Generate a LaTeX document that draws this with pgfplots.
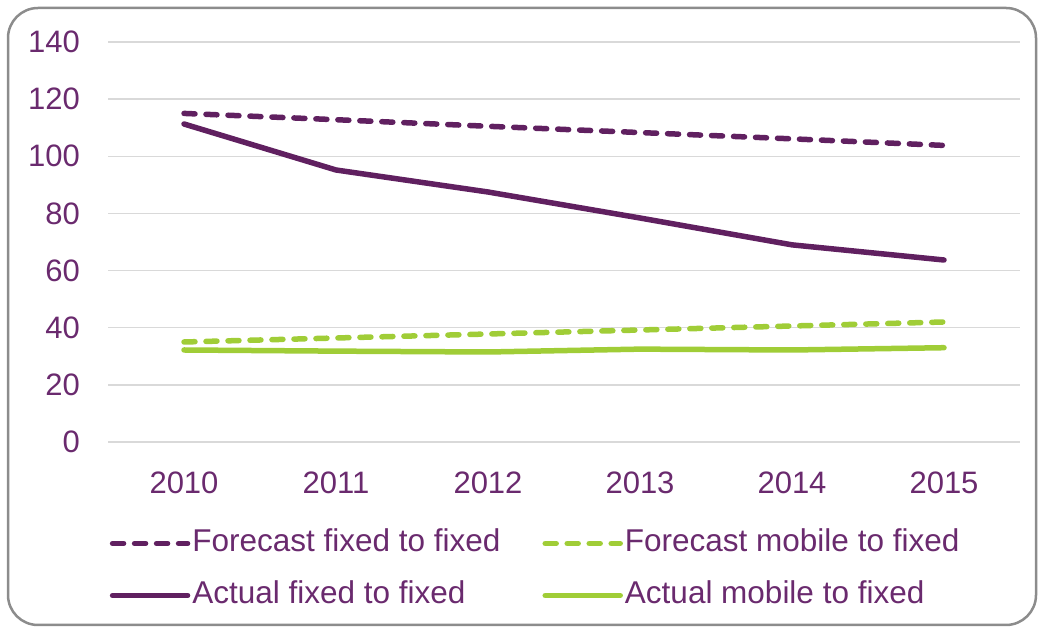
\documentclass[border=0pt]{standalone}
\usepackage{pgfplots}
\pgfplotsset{compat=1.18}
\usepackage{fontspec}
\setmainfont{Liberation Sans}
\definecolor{lpurple}{RGB}{96,32,96}
\definecolor{tpurple}{RGB}{106,42,110}
\definecolor{lgreen}{RGB}{160,205,55}
\definecolor{gridgray}{RGB}{217,217,217}
\definecolor{axgray}{RGB}{166,166,166}
\definecolor{framegray}{RGB}{140,140,140}
\newcommand{\bigfont}{\fontsize{31bp}{37bp}\selectfont}
\newcommand{\legfont}{\fontsize{31.5bp}{37bp}\selectfont}
\begin{document}
\begin{tikzpicture}[x=1bp,y=1bp]
\useasboundingbox (0,0) rectangle (1039,629);
\draw[framegray, line width=2.5bp, rounded corners=30bp] (8,4) rectangle (1036,621);
\begin{axis}[
  at={(108bp,187bp)}, anchor=south west,
  scale only axis, width=912bp, height=400bp,
  xmin=-0.5, xmax=5.5, ymin=0, ymax=140,
  ytick={0,20,...,140},
  xtick={0,1,2,3,4,5},
  xticklabels={2010,2011,2012,2013,2014,2015},
  /pgf/number format/assume math mode=true,
  axis line style={draw=none},
  major tick length=0pt,
  ymajorgrids,
  major grid style={draw=gridgray, line width=1.5bp},
  extra y ticks={0},
  extra y tick labels={},
  extra y tick style={grid style={draw=axgray, line width=1.8bp}},
  tick label style={font=\bigfont, text=tpurple, inner sep=0pt},
  yticklabel style={anchor=east, xshift=-28bp},
  xticklabel style={anchor=north, yshift=-30bp},
  legend columns=2,
  legend style={at={(0.002,-0.2175)}, anchor=north west, draw=none, fill=none,
    inner sep=0pt, outer sep=0pt, font=\legfont, text=tpurple,
    nodes={text height=23bp, text depth=6bp, inner ysep=0pt, inner xsep=2bp, anchor=west},
    row sep=23bp,
    /tikz/every even column/.append style={column sep=40bp}},
  legend cell align=left,
  legend image code/.code={\draw[#1, line width=5.5bp] (2bp,0bp) -- (77bp,0bp);},
]
\addplot[lpurple, line width=5.5bp, line cap=round, dash pattern=on 11bp off 11bp] coordinates {(0,115) (1,112.8) (2,110.5) (3,108.3) (4,106.1) (5,103.8)};
\addlegendentry{Forecast fixed to fixed}
\addplot[lgreen, line width=5.5bp, line cap=round, dash pattern=on 11bp off 11bp] coordinates {(0,35) (1,36.4) (2,37.8) (3,39.2) (4,40.6) (5,42)};
\addlegendentry{Forecast mobile to fixed}
\addplot[lpurple, line width=5.5bp, line cap=round] coordinates {(0,111.3) (1,95.2) (2,87.5) (3,78.4) (4,69) (5,63.7)};
\addlegendentry{Actual fixed to fixed}
\addplot[lgreen, line width=5.5bp, line cap=round] coordinates {(0,32.2) (1,31.8) (2,31.5) (3,32.5) (4,32.2) (5,33)};
\addlegendentry{Actual mobile to fixed}
\end{axis}
\end{tikzpicture}
\end{document}
